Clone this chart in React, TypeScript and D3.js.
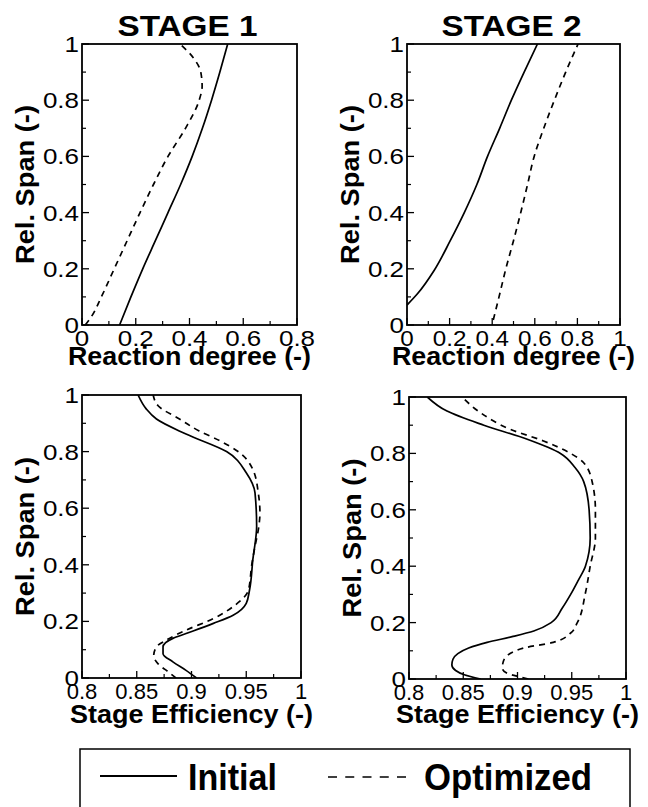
import React from "react";
import * as d3 from "d3";

// ---- values ----
const spanTicks = [0, 0.2, 0.4, 0.6, 0.8, 1];
const spanTickLabels = ["0", "0.2", "0.4", "0.6", "0.8", "1"];
const reaction1Ticks = [0, 0.2, 0.4, 0.6, 0.8];
const reaction1TickLabels = ["0", "0.2", "0.4", "0.6", "0.8"];
const reaction2Ticks = [0, 0.2, 0.4, 0.6, 0.8, 1];
const reaction2TickLabels = ["0", "0.2", "0.4", "0.6", "0.8", "1"];
const effTicks = [0.8, 0.85, 0.9, 0.95, 1];
const effTickLabels = ["0.8", "0.85", "0.9", "0.95", "1"];

// stage 1 - reaction degree
const s1ReactInitSpan = [0, 0.1, 0.2, 0.3, 0.4, 0.5, 0.6, 0.7, 0.8, 0.9, 1];
const s1ReactInitVal = [0.14, 0.182, 0.226, 0.273, 0.32, 0.367, 0.41, 0.448, 0.482, 0.513, 0.542];
const s1ReactOptSpan = [0, 0.03, 0.1, 0.2, 0.3, 0.4, 0.5, 0.6, 0.7, 0.8, 0.85, 0.9, 0.95, 1];
const s1ReactOptVal = [0.012, 0.035, 0.072, 0.12, 0.168, 0.216, 0.266, 0.32, 0.385, 0.436, 0.447, 0.442, 0.415, 0.365];

// stage 2 - reaction degree
const s2ReactInitSpan = [0.071, 0.112, 0.195, 0.3, 0.4, 0.5, 0.6, 0.7, 0.8, 0.9, 1];
const s2ReactInitVal = [0, 0.05, 0.128, 0.203, 0.269, 0.328, 0.378, 0.435, 0.49, 0.55, 0.6125];
const s2ReactOptSpan = [0.018, 0.1, 0.2, 0.3, 0.4, 0.5, 0.6, 0.7, 0.8, 0.9, 1];
const s2ReactOptVal = [0.405, 0.432, 0.464, 0.5, 0.534, 0.566, 0.597, 0.642, 0.692, 0.745, 0.803];

// stage 1 - stage efficiency
const s1EffInitSpan = [0, 0.027, 0.057, 0.086, 0.11, 0.14, 0.157, 0.193, 0.222, 0.264, 0.311, 0.418, 0.536, 0.654, 0.725, 0.8, 0.862, 0.915, 0.95, 1];
const s1EffInitVal = [0.9046, 0.895, 0.883, 0.874, 0.874, 0.883, 0.895, 0.92, 0.938, 0.95, 0.953, 0.956, 0.9595, 0.958, 0.95, 0.932, 0.895, 0.868, 0.8588, 0.8512];
const s1EffOptSpan = [0, 0.021, 0.05, 0.08, 0.11, 0.134, 0.169, 0.21, 0.252, 0.311, 0.4, 0.465, 0.536, 0.583, 0.654, 0.737, 0.796, 0.838, 0.873, 0.915, 0.962, 1];
const s1EffOptVal = [0.886, 0.879, 0.8695, 0.8655, 0.868, 0.877, 0.895, 0.92, 0.938, 0.952, 0.955, 0.958, 0.9615, 0.9625, 0.961, 0.956, 0.944, 0.926, 0.907, 0.889, 0.8695, 0.865];

// stage 2 - stage efficiency
const s2EffInitSpan = [0, 0.015, 0.03, 0.05, 0.07, 0.09, 0.11, 0.13, 0.15, 0.17, 0.2, 0.25, 0.3, 0.35, 0.4, 0.5, 0.6, 0.7, 0.75, 0.8, 0.85, 0.9, 0.95, 1];
const s2EffInitVal = [0.866, 0.851, 0.843, 0.8395, 0.8405, 0.845, 0.855, 0.872, 0.895, 0.915, 0.931, 0.941, 0.949, 0.956, 0.9626, 0.967, 0.966, 0.961, 0.953, 0.9396, 0.909, 0.869, 0.835, 0.8169];
const s2EffOptSpan = [0, 0.01, 0.021, 0.039, 0.063, 0.092, 0.11, 0.13, 0.163, 0.199, 0.305, 0.4, 0.5, 0.6, 0.696, 0.767, 0.8, 0.844, 0.885, 0.944, 1];
const s2EffOptVal = [0.91, 0.8997, 0.89, 0.886, 0.887, 0.894, 0.906, 0.933, 0.949, 0.955, 0.9626, 0.967, 0.9718, 0.9718, 0.969, 0.961, 0.949, 0.924, 0.8936, 0.866, 0.849];

const legendNames = ["Initial", "Optimized"];

// ---- layout ----
const width = 648;
const height = 807;
const font = "'Liberation Sans', Arial, Helvetica, sans-serif";

type Series = { span: number[]; value: number[]; dashed: boolean };

const zip = (s: Series): [number, number][] => s.value.map((v, i) => [v, s.span[i]]);

const panels = [
  {
    key: "r1", left: 82, right: 297, top: 44, bottom: 325,
    xDomain: [0, 0.8], ticks: reaction1Ticks, tickLabels: reaction1TickLabels, xStretch: 1.18,
    xLabel: "Reaction degree (-)", xLabelY: 365, title: "STAGE 1",
    series: [
      { span: s1ReactInitSpan, value: s1ReactInitVal, dashed: false },
      { span: s1ReactOptSpan, value: s1ReactOptVal, dashed: true },
    ],
  },
  {
    key: "r2", left: 407, right: 620, top: 44, bottom: 325,
    xDomain: [0, 1], ticks: reaction2Ticks, tickLabels: reaction2TickLabels, xStretch: 1.1,
    xLabel: "Reaction degree (-)", xLabelY: 365, title: "STAGE 2",
    series: [
      { span: s2ReactInitSpan, value: s2ReactInitVal, dashed: false },
      { span: s2ReactOptSpan, value: s2ReactOptVal, dashed: true },
    ],
  },
  {
    key: "e1", left: 82, right: 301, top: 395, bottom: 678,
    xDomain: [0.8, 1], ticks: effTicks, tickLabels: effTickLabels, xStretch: 1,
    xLabel: "Stage Efficiency (-)", xLabelY: 723, title: null,
    series: [
      { span: s1EffInitSpan, value: s1EffInitVal, dashed: false },
      { span: s1EffOptSpan, value: s1EffOptVal, dashed: true },
    ],
  },
  {
    key: "e2", left: 409, right: 626, top: 397, bottom: 679,
    xDomain: [0.8, 1], ticks: effTicks, tickLabels: effTickLabels, xStretch: 1,
    xLabel: "Stage Efficiency (-)", xLabelY: 723, title: null,
    series: [
      { span: s2EffInitSpan, value: s2EffInitVal, dashed: false },
      { span: s2EffOptSpan, value: s2EffOptVal, dashed: true },
    ],
  },
];

function Panel({ p }: { p: (typeof panels)[number] }) {
  const x = d3.scaleLinear().domain(p.xDomain).range([p.left, p.right]);
  const y = d3.scaleLinear().domain([0, 1]).range([p.bottom, p.top]);
  const line = d3
    .line<[number, number]>()
    .x((d) => x(d[0]))
    .y((d) => y(d[1]))
    .curve(d3.curveMonotoneY);
  const xMinor = d3.pairs(p.ticks).map(([a, b]) => (a + b) / 2);
  const yMinor = d3.pairs(spanTicks).map(([a, b]) => (a + b) / 2);
  const cx = (p.left + p.right) / 2;
  const cy = (p.top + p.bottom) / 2;

  return (
    <g>
      <clipPath id={`clip-${p.key}`}>
        <rect x={p.left} y={p.top} width={p.right - p.left} height={p.bottom - p.top} />
      </clipPath>

      {/* ticks, pointing inward */}
      {p.ticks.map((t) => (
        <line key={"xt" + t} x1={x(t)} x2={x(t)} y1={p.bottom} y2={p.bottom - 7} stroke="#000" strokeWidth={1.3} />
      ))}
      {xMinor.map((t) => (
        <line key={"xm" + t} x1={x(t)} x2={x(t)} y1={p.bottom} y2={p.bottom - 4} stroke="#000" strokeWidth={1.2} />
      ))}
      {spanTicks.map((t) => (
        <line key={"yt" + t} x1={p.left} x2={p.left + 7} y1={y(t)} y2={y(t)} stroke="#000" strokeWidth={1.3} />
      ))}
      {yMinor.map((t) => (
        <line key={"ym" + t} x1={p.left} x2={p.left + 4} y1={y(t)} y2={y(t)} stroke="#000" strokeWidth={1.2} />
      ))}

      <g clipPath={`url(#clip-${p.key})`}>
        {p.series.map((s, i) => (
          <path
            key={i}
            d={line(zip(s)) || ""}
            fill="none"
            stroke="#000"
            strokeWidth={1.7}
            strokeDasharray={s.dashed ? "6 5" : undefined}
          />
        ))}
      </g>

      <rect
        x={p.left}
        y={p.top}
        width={p.right - p.left}
        height={p.bottom - p.top}
        fill="none"
        stroke="#000"
        strokeWidth={1.8}
      />

      {/* tick labels */}
      {p.ticks.map((t, i) => (
        <text
          key={"xl" + t}
          transform={`translate(${x(t)},${p.bottom + 21}) scale(${p.xStretch},1)`}
          textAnchor="middle"
          fontSize={22}
          fontFamily={font}
        >
          {p.tickLabels[i]}
        </text>
      ))}
      {spanTicks.map((t, i) => (
        <text
          key={"yl" + t}
          transform={`translate(${p.left - 3},${y(t)}) scale(1.18,1)`}
          dy="0.36em"
          textAnchor="end"
          fontSize={22}
          fontFamily={font}
        >
          {spanTickLabels[i]}
        </text>
      ))}

      {/* axis titles */}
      <text
        x={cx}
        y={p.xLabelY}
        textAnchor="middle"
        fontSize={25}
        fontWeight="bold"
        fontFamily={font}
        textLength={243}
        lengthAdjust="spacingAndGlyphs"
      >
        {p.xLabel}
      </text>
      <text
        transform={`translate(${p.left - 48},${cy}) rotate(-90)`}
        textAnchor="middle"
        fontSize={25}
        fontWeight="bold"
        fontFamily={font}
        textLength={159}
        lengthAdjust="spacingAndGlyphs"
      >
        Rel. Span (-)
      </text>
      {p.title && (
        <text
          x={cx - 2}
          y={36}
          textAnchor="middle"
          fontSize={29}
          fontWeight="bold"
          fontFamily={font}
          textLength={140}
          lengthAdjust="spacingAndGlyphs"
        >
          {p.title}
        </text>
      )}
    </g>
  );
}

function Legend() {
  const solidX = d3.scaleLinear().domain([0, 1]).range([100, 177]);
  const dashX = d3.scaleLinear().domain([0, 1]).range([328, 406]);
  return (
    <g>
      <rect x={80} y={749} width={550} height={90} fill="#fff" stroke="#000" strokeWidth={1.5} />
      <line x1={solidX(0)} x2={solidX(1)} y1={776} y2={776} stroke="#000" strokeWidth={2} />
      <text x={188} y={790} fontSize={37} fontWeight="bold" fontFamily={font} textLength={89} lengthAdjust="spacingAndGlyphs">
        {legendNames[0]}
      </text>
      <line x1={dashX(0)} x2={dashX(1)} y1={777} y2={777} stroke="#000" strokeWidth={1.7} strokeDasharray="9 8.25" />
      <text x={424} y={790} fontSize={37} fontWeight="bold" fontFamily={font} textLength={168} lengthAdjust="spacingAndGlyphs">
        {legendNames[1]}
      </text>
    </g>
  );
}

export default function App() {
  return (
    <div style={{ position: "absolute", left: 0, top: 0 }}>
      <svg width={width} height={height} style={{ display: "block", background: "#fff" }}>
        {panels.map((p) => (
          <Panel key={p.key} p={p} />
        ))}
        <Legend />
      </svg>
    </div>
  );
}
